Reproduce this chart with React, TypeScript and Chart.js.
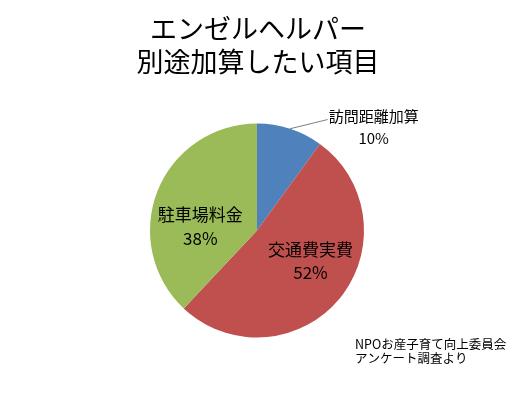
import React, { useEffect, useRef } from "react";
import { Chart, registerables } from "chart.js";

Chart.register(...registerables);

const titleLines = ["エンゼルヘルパー", "別途加算したい項目"];
const categories = ["訪問距離加算", "交通費実費", "駐車場料金"];
const percentages = [10, 52, 38];
const sliceColors = ["#4F81BD", "#C0504D", "#9BBB59"];
const footnoteLines = ["NPOお産子育て向上委員会", "アンケート調査より"];

const FONT = '"Noto Sans CJK JP", "Noto Sans", sans-serif';

// label placement relative to pie centre, in units of radius
const labelPlacement = [
  { dx: 1.09, dy: -1.065, outside: true, size: 15, gap: 22 },
  { dx: 0.5, dy: 0.29, outside: false, size: 17, gap: 23 },
  { dx: -0.53, dy: -0.04, outside: false, size: 17, gap: 24 },
];

const overlayPlugin = {
  id: "overlay",
  afterDraw(chart: any) {
    const ctx = chart.ctx;
    ctx.save();
    ctx.fillStyle = "#000";
    ctx.textAlign = "center";
    ctx.textBaseline = "middle";
    // title
    ctx.font = `27px ${FONT}`;
    ctx.fillText(titleLines[0], 258, 29);
    ctx.fillText(titleLines[1], 258, 62);

    const meta = chart.getDatasetMeta(0);
    meta.data.forEach((arc: any, i: number) => {
      const p = arc.getProps(["x", "y", "outerRadius", "startAngle", "endAngle"], true);
      const r = p.outerRadius;
      const pl = labelPlacement[i];
      const lx = p.x + pl.dx * r;
      const ly = p.y + pl.dy * r;
      if (pl.outside) {
        const mid = (p.startAngle + p.endAngle) / 2;
        const sx = p.x + Math.cos(mid) * r;
        const sy = p.y + Math.sin(mid) * r;
        ctx.strokeStyle = "#7f7f7f";
        ctx.lineWidth = 1;
        ctx.beginPath();
        ctx.moveTo(sx, sy);
        ctx.lineTo(lx - 46, ly + 3);
        ctx.stroke();
        ctx.font = `${pl.size}px ${FONT}`;
        ctx.fillText(categories[i], lx, ly);
        ctx.fillText(`${percentages[i]}%`, lx, ly + pl.gap);
      } else {
        ctx.font = `${pl.size}px ${FONT}`;
        ctx.fillText(categories[i], lx, ly - pl.gap / 2);
        ctx.fillText(`${percentages[i]}%`, lx, ly + pl.gap / 2);
      }
    });

    // footnote
    ctx.textAlign = "left";
    ctx.font = `12.5px ${FONT}`;
    ctx.fillText(footnoteLines[0], 355, 344);
    ctx.fillText(footnoteLines[1], 355, 358);
    ctx.restore();
  },
};

export default function App() {
  const ref = useRef<HTMLCanvasElement>(null);
  useEffect(() => {
    document.body.style.margin = "0";
    document.body.style.background = "#fff";
    const chart = new Chart(ref.current as HTMLCanvasElement, {
      type: "pie",
      data: {
        labels: categories,
        datasets: [
          {
            data: percentages,
            backgroundColor: sliceColors,
            borderWidth: 0,
          },
        ],
      },
      options: {
        responsive: false,
        animation: false,
        layout: { padding: { left: 150, right: 166, top: 123, bottom: 60 } },
        plugins: {
          legend: { display: false },
          tooltip: { enabled: false },
          title: { display: false },
        },
      },
      plugins: [overlayPlugin],
    });
    return () => chart.destroy();
  }, []);
  return (
    <div style={{ width: 530, height: 398, background: "#fff" }}>
      <canvas ref={ref} width={530} height={398} style={{ display: "block" }} />
    </div>
  );
}
